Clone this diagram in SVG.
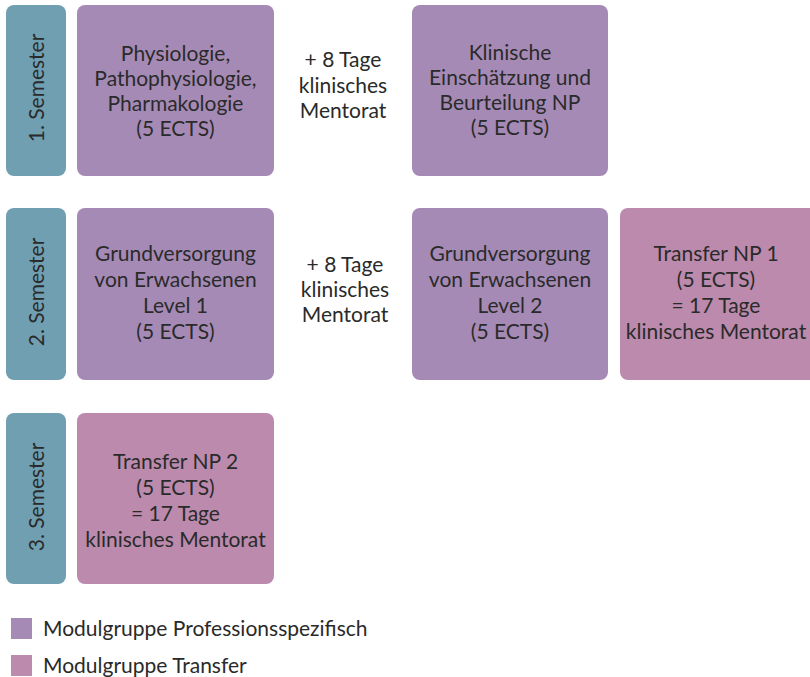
<svg xmlns="http://www.w3.org/2000/svg" width="810" height="677" viewBox="0 0 810 677">
<style>
text{font-family:Lato,"Open Sans","DejaVu Sans",sans-serif;font-size:21px;fill:#2a2a2a;text-anchor:middle}
.sem{fill:#6f9fb1}
.pro{fill:#a68ab6}
.tra{fill:#bb8aad}
.leg{text-anchor:start}
</style>
<rect width="810" height="677" fill="#ffffff"/>
<g id="sem1"><rect class="sem" x="6" y="5" width="60" height="171" rx="8"/><text transform="translate(44,88) rotate(-90)">1. Semester</text></g>
<g id="sem2"><rect class="sem" x="6" y="208" width="60" height="172" rx="8"/><text transform="translate(44,292) rotate(-90)">2. Semester</text></g>
<g id="sem3"><rect class="sem" x="6" y="413" width="60" height="171" rx="8"/><text transform="translate(44,497) rotate(-90)">3. Semester</text></g>
<g id="physio"><rect class="pro" x="77" y="5" width="197" height="171" rx="8"/>
<text x="175.5" y="61">Physiologie,</text><text x="175.5" y="86">Pathophysiologie,</text><text x="175.5" y="111">Pharmakologie</text><text x="175.5" y="136">(5 ECTS)</text></g>
<g id="mentorat1"><text x="343" y="67">+ 8 Tage</text><text x="343" y="93">klinisches</text><text x="343" y="118">Mentorat</text></g>
<g id="klinische"><rect class="pro" x="412" y="5" width="196" height="171" rx="8"/>
<text x="510" y="60">Klinische</text><text x="510" y="85">Einschätzung und</text><text x="510" y="110">Beurteilung NP</text><text x="510" y="135">(5 ECTS)</text></g>
<g id="grund1"><rect class="pro" x="77" y="208" width="197" height="172" rx="8"/>
<text x="175.5" y="261">Grundversorgung</text><text x="175.5" y="287">von Erwachsenen</text><text x="175.5" y="313">Level 1</text><text x="175.5" y="339">(5 ECTS)</text></g>
<g id="mentorat2"><text x="345" y="272">+ 8 Tage</text><text x="345" y="297">klinisches</text><text x="345" y="322">Mentorat</text></g>
<g id="grund2"><rect class="pro" x="412" y="208" width="196" height="172" rx="8"/>
<text x="510" y="261">Grundversorgung</text><text x="510" y="287">von Erwachsenen</text><text x="510" y="313">Level 2</text><text x="510" y="339">(5 ECTS)</text></g>
<g id="transfer1"><rect class="tra" x="620" y="208" width="197" height="172" rx="8"/>
<text x="716" y="261">Transfer NP 1</text><text x="716" y="287">(5 ECTS)</text><text x="716" y="313">= 17 Tage</text><text x="716" y="339">klinisches Mentorat</text></g>
<g id="transfer2"><rect class="tra" x="77" y="413" width="197" height="171" rx="8"/>
<text x="175.5" y="469">Transfer NP 2</text><text x="175.5" y="495">(5 ECTS)</text><text x="175.5" y="521">= 17 Tage</text><text x="175.5" y="547">klinisches Mentorat</text></g>
<g id="legend">
<rect class="pro" x="11" y="618" width="21" height="21"/><text class="leg" x="43" y="636">Modulgruppe Professionsspezifisch</text>
<rect class="tra" x="11" y="655" width="21" height="21"/><text class="leg" x="43" y="673">Modulgruppe Transfer</text>
</g>
</svg>
